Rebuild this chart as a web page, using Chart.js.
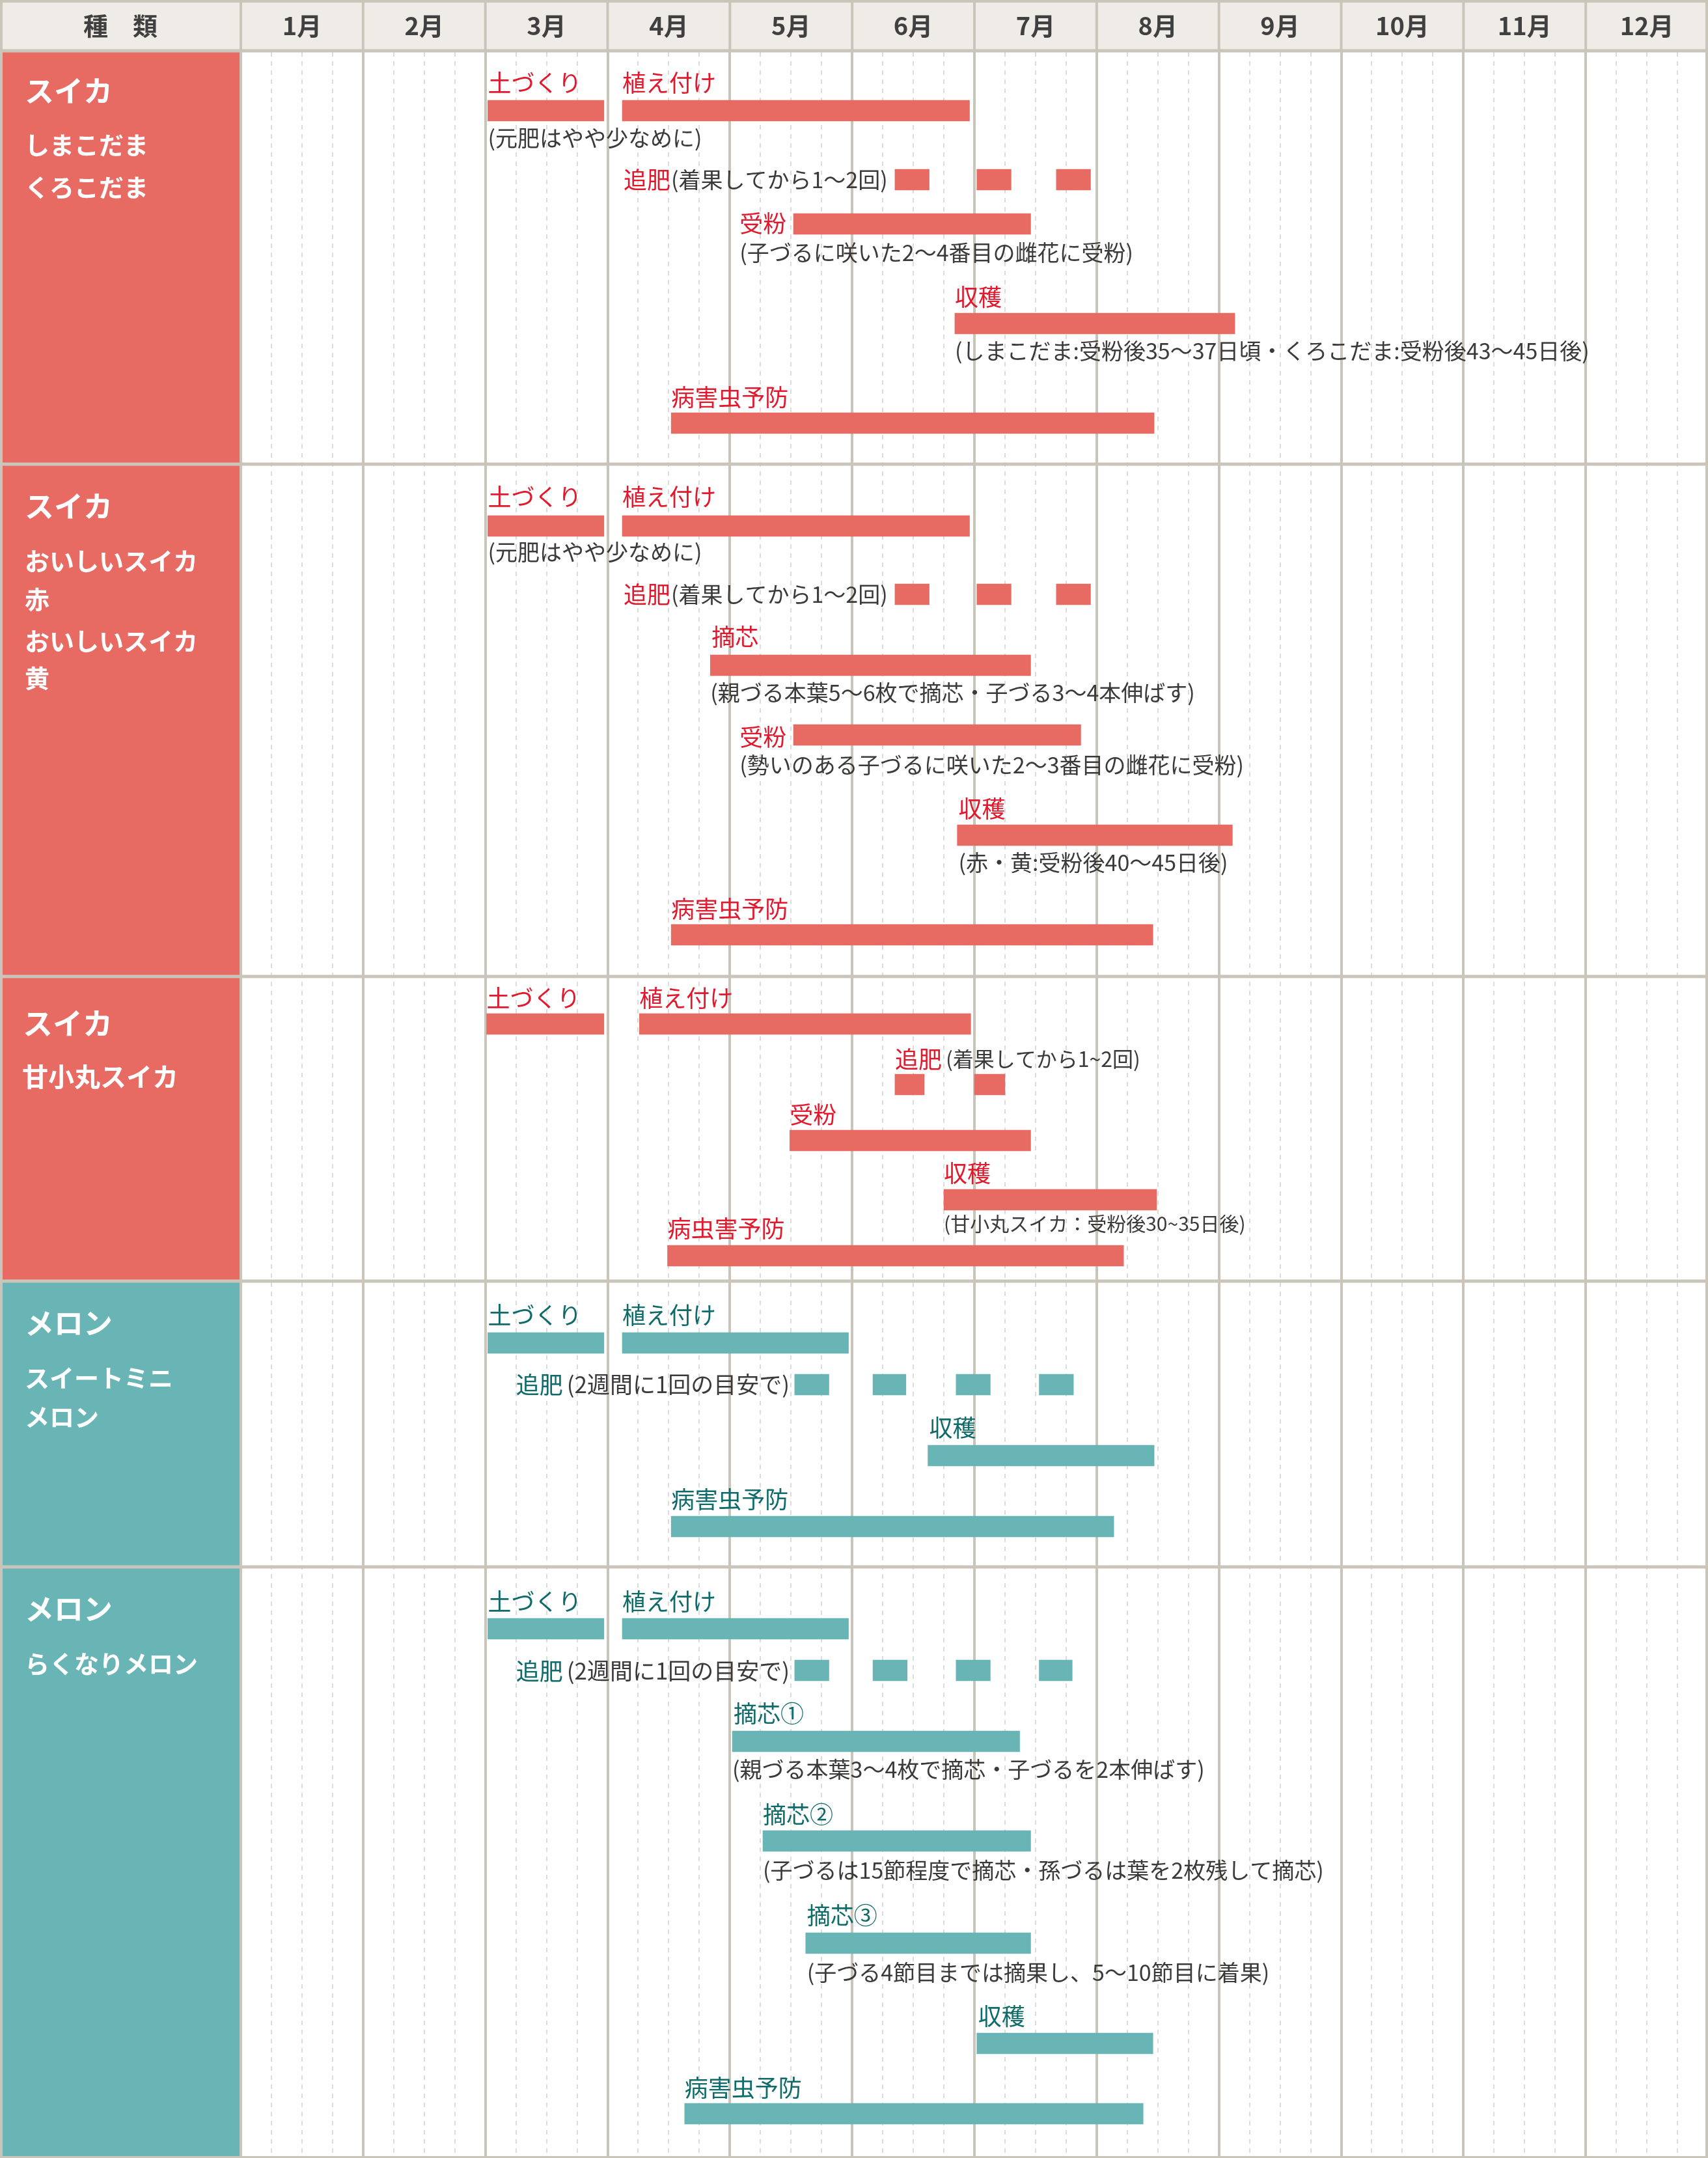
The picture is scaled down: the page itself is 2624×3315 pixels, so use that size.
<!DOCTYPE html>
<html>
<head>
<meta charset="utf-8">
<script src="https://cdn.jsdelivr.net/npm/chart.js@4.4.1/dist/chart.umd.min.js"></script>
<style>
  html, body { margin: 0; padding: 0; background: #fff; }
  canvas { display: block; }
</style>
</head>
<body>
<canvas id="calendar" width="2624" height="3315"></canvas>
<script>
// months across the top, x axis runs 0..12 (start of 1月 .. end of 12月)
const months = ["1月", "2月", "3月", "4月", "5月", "6月", "7月", "8月", "9月", "10月", "11月", "12月"];

// the five blocks (rows are in reference y units, top to bottom)
const sectionTitles = ["スイカ", "スイカ", "スイカ", "メロン", "メロン"];
const sectionKinds = ["suika", "suika", "suika", "melon", "melon"];
const sectionVarieties = [
  ["しまこだま", "くろこだま"],
  ["おいしいスイカ", "赤", "おいしいスイカ", "黄"],
  ["甘小丸スイカ"],
  ["スイートミニ", "メロン"],
  ["らくなりメロン"],
];
const sectionBreaks = [78, 713, 1500, 1968, 2407, 3312];
const titleRows = [140, 778, 1572, 2033, 2472];
const varietyRows = [[223, 288], [862, 921, 985, 1042], [1654], [2117, 2177], [2556]];

// bars: [section, task, start month, end month, row]
const suikaBars = [
  [0, "土づくり", 2.02, 2.97, 170],
  [0, "植え付け", 3.12, 5.96, 170],
  [0, "追肥", 5.35, 5.63, 276],
  [0, "追肥", 6.02, 6.30, 276],
  [0, "追肥", 6.67, 6.95, 276],
  [0, "受粉", 4.52, 6.46, 344],
  [0, "収穫", 5.84, 8.13, 497],
  [0, "病害虫予防", 3.52, 7.47, 650],

  [1, "土づくり", 2.02, 2.97, 808],
  [1, "植え付け", 3.12, 5.96, 808],
  [1, "追肥", 5.35, 5.63, 913],
  [1, "追肥", 6.02, 6.30, 913],
  [1, "追肥", 6.67, 6.95, 913],
  [1, "摘芯", 3.84, 6.46, 1022],
  [1, "受粉", 4.52, 6.87, 1129],
  [1, "収穫", 5.86, 8.11, 1283],
  [1, "病害虫予防", 3.52, 7.46, 1436],

  [2, "土づくり", 2.01, 2.97, 1573],
  [2, "植え付け", 3.26, 5.97, 1573],
  [2, "追肥", 5.35, 5.59, 1666],
  [2, "追肥", 6.00, 6.25, 1666],
  [2, "受粉", 4.49, 6.46, 1752],
  [2, "収穫", 5.75, 7.49, 1843],
  [2, "病虫害予防", 3.49, 7.22, 1929],
];

const melonBars = [
  [3, "土づくり", 2.02, 2.97, 2063],
  [3, "植え付け", 3.12, 4.97, 2063],
  [3, "追肥", 4.53, 4.81, 2127],
  [3, "追肥", 5.17, 5.44, 2127],
  [3, "追肥", 5.85, 6.13, 2127],
  [3, "追肥", 6.53, 6.81, 2127],
  [3, "収穫", 5.62, 7.47, 2236],
  [3, "病害虫予防", 3.52, 7.14, 2345],

  [4, "土づくり", 2.02, 2.97, 2502],
  [4, "植え付け", 3.12, 4.97, 2502],
  [4, "追肥", 4.53, 4.81, 2566],
  [4, "追肥", 5.17, 5.45, 2566],
  [4, "追肥", 5.85, 6.13, 2566],
  [4, "追肥", 6.53, 6.80, 2566],
  [4, "摘芯①", 4.02, 6.37, 2675],
  [4, "摘芯②", 4.27, 6.46, 2828],
  [4, "摘芯③", 4.62, 6.46, 2985],
  [4, "収穫", 6.02, 7.46, 3139],
  [4, "病害虫予防", 3.63, 7.38, 3247],
];

// coloured task labels: [section, text, month, row, inline note]
const taskLabels = [
  [0, "土づくり", 2.02, 127],
  [0, "植え付け", 3.12, 127],
  [0, "追肥", 3.13, 276, "(着果してから1～2回)"],
  [0, "受粉", 4.08, 343],
  [0, "収穫", 5.84, 456],
  [0, "病害虫予防", 3.52, 610],

  [1, "土づくり", 2.02, 763],
  [1, "植え付け", 3.12, 763],
  [1, "追肥", 3.13, 913, "(着果してから1～2回)"],
  [1, "摘芯", 3.85, 978],
  [1, "受粉", 4.08, 1132],
  [1, "収穫", 5.87, 1242],
  [1, "病害虫予防", 3.52, 1396],

  [2, "土づくり", 2.01, 1533],
  [2, "植え付け", 3.26, 1533],
  [2, "追肥", 5.35, 1627, "(着果してから1~2回)"],
  [2, "受粉", 4.49, 1712],
  [2, "収穫", 5.75, 1802],
  [2, "病虫害予防", 3.49, 1887],

  [3, "土づくり", 2.02, 2020],
  [3, "植え付け", 3.12, 2020],
  [3, "追肥", 2.25, 2127, "(2週間に1回の目安で)"],
  [3, "収穫", 5.63, 2193],
  [3, "病害虫予防", 3.52, 2303],

  [4, "土づくり", 2.02, 2460],
  [4, "植え付け", 3.12, 2460],
  [4, "追肥", 2.25, 2567, "(2週間に1回の目安で)"],
  [4, "摘芯①", 4.03, 2632],
  [4, "摘芯②", 4.27, 2787],
  [4, "摘芯③", 4.63, 2942],
  [4, "収穫", 6.03, 3097],
  [4, "病害虫予防", 3.63, 3207],
];

// grey notes under the bars: [section, text, month, row]
const taskNotes = [
  [0, "(元肥はやや少なめに)", 2.02, 212],
  [0, "(子づるに咲いた2～4番目の雌花に受粉)", 4.08, 388],
  [0, "(しまこだま:受粉後35～37日頃・くろこだま:受粉後43～45日後)", 5.84, 539],
  [1, "(元肥はやや少なめに)", 2.02, 848],
  [1, "(親づる本葉5～6枚で摘芯・子づる3～4本伸ばす)", 3.84, 1064],
  [1, "(勢いのある子づるに咲いた2～3番目の雌花に受粉)", 4.08, 1175],
  [1, "(赤・黄:受粉後40～45日後)", 5.87, 1325],
  [2, "(甘小丸スイカ：受粉後30~35日後)", 5.75, 1880],
  [4, "(親づる本葉3～4枚で摘芯・子づるを2本伸ばす)", 4.02, 2718],
  [4, "(子づるは15節程度で摘芯・孫づるは葉を2枚残して摘芯)", 4.27, 2873],
  [4, "(子づる4節目までは摘果し、5～10節目に着果)", 4.63, 3030],
];

const RED = "#e76a63";
const TEAL = "#69b5b5";
const RED_TEXT = "#e2182d";
const TEAL_TEXT = "#0e6b6a";
const NOTE_TEXT = "#3a3a3a";
const LINE = "#cac5ba";
const DASH = "#dedcd8";
const HEAD_BG = "#efebe6";
const FONT = "'Noto Sans CJK JP', 'Noto Sans', sans-serif";

const toPoints = (bars) => bars.map((b) => ({ x: [b[2], b[3]], y: b[4] }));

// the 甘小丸 block is typeset a little smaller than the others
const noteSize = (sec) => (sec === 2 ? 30 : 34);
const inlineNoteSize = (sec) => (sec === 2 ? 32 : sec >= 3 ? 35 : 34);

const calendarPlugin = {
  id: "calendar",
  beforeDraw(chart) {
    const { ctx, scales: { x, y } } = chart;
    ctx.save();
    ctx.fillStyle = "#fff";
    ctx.fillRect(0, 0, chart.width, chart.height);
    ctx.fillStyle = HEAD_BG;
    ctx.fillRect(0, 0, chart.width, y.getPixelForValue(sectionBreaks[0]));
    sectionKinds.forEach((kind, i) => {
      const top = y.getPixelForValue(sectionBreaks[i]);
      const bottom = y.getPixelForValue(sectionBreaks[i + 1]);
      ctx.fillStyle = kind === "melon" ? TEAL : RED;
      ctx.fillRect(0, top, x.left, bottom - top);
    });
    ctx.restore();
  },
  afterDatasetsDraw(chart) {
    const { ctx, scales: { x, y } } = chart;
    const headBottom = y.getPixelForValue(sectionBreaks[0]);
    ctx.save();

    // month lines through the header
    ctx.strokeStyle = LINE;
    ctx.lineWidth = 4;
    for (let m = 0; m <= 12; m++) {
      const px = x.getPixelForValue(m);
      ctx.beginPath();
      ctx.moveTo(px, 0);
      ctx.lineTo(px, headBottom);
      ctx.stroke();
    }

    // block separators and outer frame
    ctx.lineWidth = 5;
    sectionBreaks.slice(0, -1).forEach((v) => {
      const py = y.getPixelForValue(v);
      ctx.beginPath();
      ctx.moveTo(0, py);
      ctx.lineTo(chart.width, py);
      ctx.stroke();
    });
    ctx.lineWidth = 4;
    ctx.strokeRect(2, 2, chart.width - 4, y.getPixelForValue(sectionBreaks[sectionBreaks.length - 1]));

    // header text
    ctx.fillStyle = "#404040";
    ctx.textBaseline = "middle";
    ctx.textAlign = "center";
    ctx.font = `bold 38px ${FONT}`;
    ctx.fillText("種　類", x.left / 2, headBottom / 2 + 1);
    months.forEach((m, i) => ctx.fillText(m, x.getPixelForValue(i + 0.5), headBottom / 2 + 1));

    // block names
    ctx.textAlign = "left";
    ctx.fillStyle = "#fff";
    sectionTitles.forEach((t, i) => {
      const big = i === 2;
      ctx.font = `bold ${big ? 46 : 45}px ${FONT}`;
      ctx.fillText(t, big ? 35 : 38, y.getPixelForValue(titleRows[i]));
      ctx.font = `bold ${big ? 40 : 38}px ${FONT}`;
      sectionVarieties[i].forEach((v, j) => ctx.fillText(v, big ? 34 : 38, y.getPixelForValue(varietyRows[i][j])));
    });

    // task labels
    taskLabels.forEach(([sec, text, m, row, note]) => {
      const px = x.getPixelForValue(m);
      const py = y.getPixelForValue(row);
      ctx.font = `36px ${FONT}`;
      ctx.fillStyle = sectionKinds[sec] === "melon" ? TEAL_TEXT : RED_TEXT;
      ctx.fillText(text, px, py);
      if (note) {
        const w = ctx.measureText(text).width;
        ctx.font = `${inlineNoteSize(sec)}px ${FONT}`;
        ctx.fillStyle = NOTE_TEXT;
        ctx.fillText(note, px + w + (sec >= 2 ? 6 : 1), py);
      }
    });

    // notes
    ctx.fillStyle = NOTE_TEXT;
    taskNotes.forEach(([sec, text, m, row]) => {
      ctx.font = `${noteSize(sec)}px ${FONT}`;
      ctx.fillText(text, x.getPixelForValue(m), y.getPixelForValue(row));
    });

    ctx.restore();
  },
};

const ctx = document.getElementById("calendar").getContext("2d");

new Chart(ctx, {
  type: "bar",
  data: {
    datasets: [
      { data: toPoints(suikaBars), backgroundColor: RED },
      { data: toPoints(melonBars), backgroundColor: TEAL },
    ],
  },
  options: {
    indexAxis: "y",
    responsive: false,
    animation: false,
    devicePixelRatio: 1,
    grouped: false,
    barThickness: 32,
    borderWidth: 0,
    layout: { padding: { left: 370, top: 80, right: 0, bottom: 3 } },
    plugins: { legend: { display: false }, tooltip: { enabled: false } },
    scales: {
      x: {
        type: "linear",
        min: 0,
        max: 12,
        ticks: { display: false, stepSize: 0.25 },
        grid: {
          drawTicks: false,
          color: (c) => (Number.isInteger(c.tick.value) ? LINE : DASH),
          lineWidth: (c) => (Number.isInteger(c.tick.value) ? 4 : 2),
        },
        border: {
          display: false,
          dash: (c) => (Number.isInteger(c.tick.value) ? [] : [7, 7]),
        },
      },
      y: {
        type: "linear",
        min: 80,
        max: 3312,
        reverse: true,
        offset: false,
        display: false,
        grid: { offset: false },
      },
    },
  },
  plugins: [calendarPlugin],
});
</script>
</body>
</html>
